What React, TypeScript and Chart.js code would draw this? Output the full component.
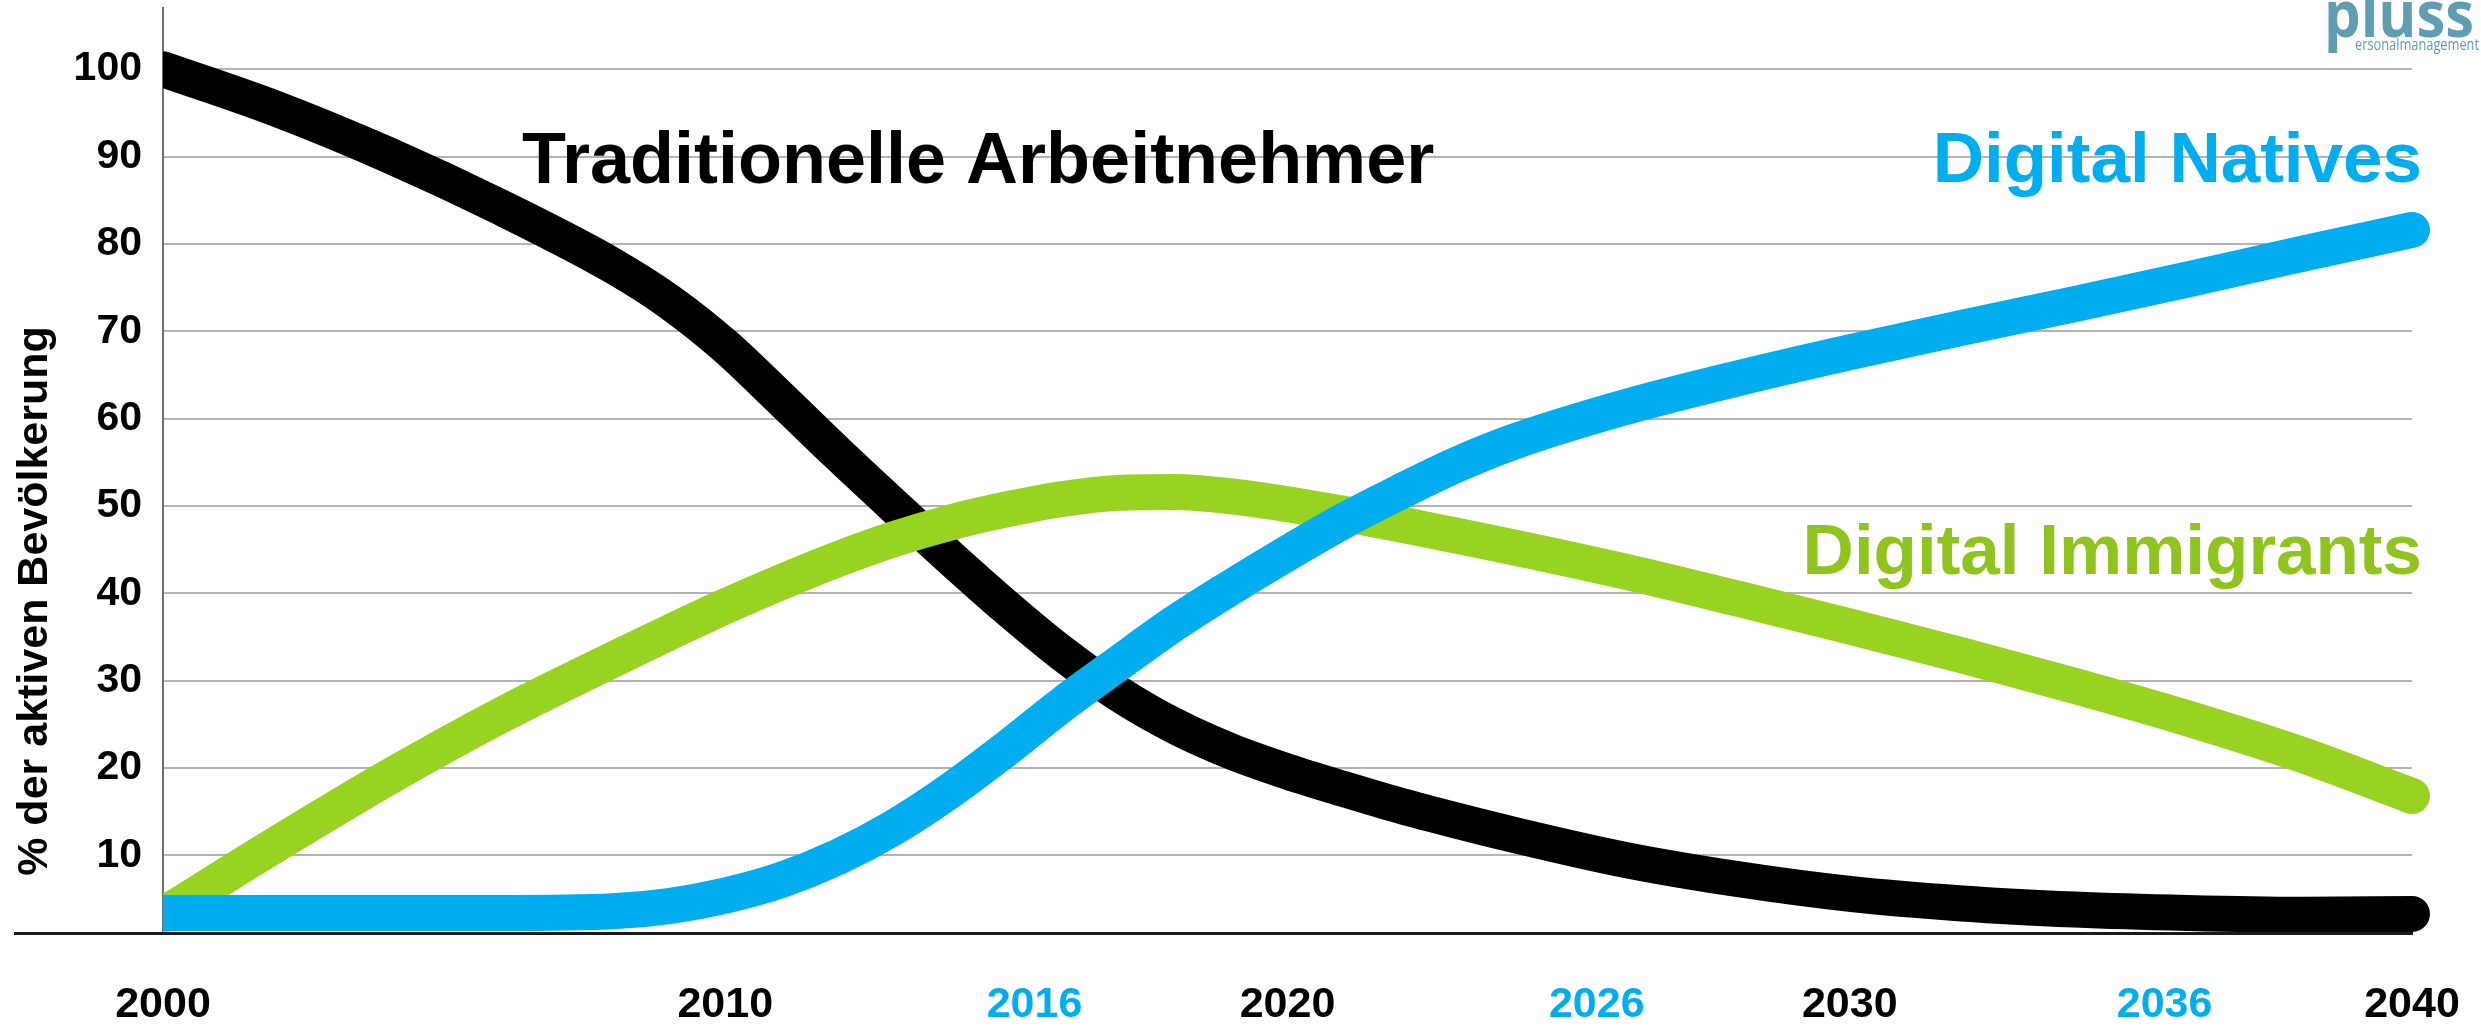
import React, { useEffect, useRef } from "react";
import { Chart, registerables } from "chart.js";

Chart.register(...registerables);

// ---------- data ----------
const years = [
  2000, 2002, 2004, 2006, 2008, 2009, 2010, 2011, 2012, 2013, 2014, 2015,
  2016, 2017, 2018, 2019, 2020, 2021, 2022, 2023, 2024, 2026, 2028, 2030,
  2032, 2034, 2036, 2038, 2040,
];

const traditionelleArbeitnehmer = [
  100, 95.5, 90.2, 84.2, 77.5, 73.4, 68.3, 62.2, 56, 50, 44.1, 38.4,
  33.1, 28.5, 24.8, 21.9, 19.6, 17.6, 15.7, 14, 12.4, 9.5, 7.3, 5.6,
  4.5, 3.8, 3.4, 3.2, 3.3,
];

const digitalImmigrants = [
  3.2, 11.2, 18.9, 26, 32.4, 35.5, 38.5, 41.3, 43.9, 46.2, 48.1, 49.6,
  50.8, 51.5, 51.6, 51.1, 50.2, 49.1, 47.9, 46.6, 45.3, 42.5, 39.4, 36.2,
  32.9, 29.4, 25.7, 21.6, 16.8,
];

const digitalNatives = [
  3.4, 3.4, 3.4, 3.4, 3.6, 4.2, 5.4, 7.2, 9.8, 13.2, 17.4, 22.2,
  27.3, 32, 36.6, 40.7, 44.6, 48.3, 51.6, 54.7, 57.3, 61.3, 64.6, 67.6,
  70.4, 73.1, 75.9, 78.8, 81.6,
];

const xTickValues = [2000, 2010, 2015.5, 2020, 2025.5, 2030, 2035.6, 2040];
const xTickLabels = ["2000", "2010", "2016", "2020", "2026", "2030", "2036", "2040"];
const xTickHighlighted = [false, false, true, false, true, false, true, false];

const yTickValues = [10, 20, 30, 40, 50, 60, 70, 80, 90, 100];

const yAxisTitle = "% der aktiven Bevölkerung";
const labelTraditionelle = "Traditionelle Arbeitnehmer";
const labelNatives = "Digital Natives";
const labelImmigrants = "Digital Immigrants";
const logoMain = "pluss";
const logoSub = "ersonalmanagement";

// ---------- styles ----------
const BLUE = "#00aeef";
const GREEN = "#97d320";
const GREEN_TEXT = "#8fc41f";
const BLACK = "#000000";
const TEAL = "#5f9db0";
const FONT = "'Liberation Sans', Arial, Helvetica, sans-serif";
const LOGO_FONT = "'Open Sans', 'DejaVu Sans', sans-serif";

const W = 2481;
const H = 1027;

function fitText(ctx: CanvasRenderingContext2D, text: string, x: number, y: number, width: number) {
  const m = ctx.measureText(text).width || 1;
  ctx.save();
  ctx.translate(x, y);
  ctx.scale(width / m, 1);
  ctx.fillText(text, 0, 0);
  ctx.restore();
}

const overlayPlugin = {
  id: "overlay",
  afterDraw(chart: any) {
    const ctx = chart.ctx as CanvasRenderingContext2D;
    const area = chart.chartArea;
    ctx.save();

    // x baseline (extends left past the y axis)
    ctx.strokeStyle = "#1a1a1a";
    ctx.lineWidth = 3;
    ctx.beginPath();
    ctx.moveTo(14, area.bottom + 0.5);
    ctx.lineTo(area.right + 1, area.bottom + 0.5);
    ctx.stroke();

    // series labels
    ctx.textBaseline = "alphabetic";
    ctx.fillStyle = BLACK;
    ctx.textAlign = "left";
    ctx.font = `bold 72px ${FONT}`;
    ctx.fillText(labelTraditionelle, 522, 183);
    ctx.font = `bold 71px ${FONT}`;
    ctx.fillStyle = BLUE;
    ctx.textAlign = "right";
    ctx.fillText(labelNatives, 2422, 182);
    ctx.fillStyle = GREEN_TEXT;
    ctx.fillText(labelImmigrants, 2422, 574);

    // y axis title
    ctx.save();
    ctx.translate(47, 601);
    ctx.rotate(-Math.PI / 2);
    ctx.font = `bold 43px ${FONT}`;
    ctx.fillStyle = BLACK;
    ctx.textAlign = "center";
    ctx.textBaseline = "alphabetic";
    ctx.fillText(yAxisTitle, 0, 0);
    ctx.restore();

    // logo
    ctx.fillStyle = TEAL;
    ctx.textAlign = "left";
    ctx.textBaseline = "alphabetic";
    ctx.font = `bold 64px ${LOGO_FONT}`;
    fitText(ctx, logoMain, 2324, 37, 150);
    ctx.font = `16px ${LOGO_FONT}`;
    fitText(ctx, logoSub, 2355, 50, 124);

    ctx.restore();
  },
};

function makeDataset(label: string, values: number[], color: string) {
  return {
    label,
    data: years.map((x, i) => ({ x, y: values[i] })),
    borderColor: color,
    backgroundColor: color,
    borderWidth: 36,
    pointRadius: 0,
    pointHoverRadius: 0,
    fill: false,
    cubicInterpolationMode: "monotone" as const,
    borderCapStyle: "round" as const,
    borderJoinStyle: "round" as const,
    clip: { left: 0, top: false, right: false, bottom: 0 } as any,
  };
}

export default function App() {
  const canvasRef = useRef<HTMLCanvasElement | null>(null);

  useEffect(() => {
    const canvas = canvasRef.current;
    if (!canvas) return;
    const chart = new Chart(canvas, {
      type: "line",
      data: {
        datasets: [
          // first dataset is drawn on top
          makeDataset(labelNatives, digitalNatives, BLUE),
          makeDataset(labelImmigrants, digitalImmigrants, GREEN),
          makeDataset(labelTraditionelle, traditionelleArbeitnehmer, BLACK),
        ],
      },
      options: {
        responsive: false,
        maintainAspectRatio: false,
        animation: false,
        devicePixelRatio: 1,
        events: [],
        layout: { padding: { left: 0, right: 69, top: 8, bottom: 0 } },
        plugins: {
          legend: { display: false },
          tooltip: { enabled: false },
          title: { display: false },
        },
        scales: {
          x: {
            type: "linear",
            min: 2000,
            max: 2040,
            afterBuildTicks: (s: any) => {
              s.ticks = xTickValues.map((v) => ({ value: v }));
            },
            afterFit: (s: any) => {
              s.height = 94;
              s.paddingLeft = 0;
              s.paddingRight = 0;
            },
            grid: { display: false, drawTicks: false },
            border: { display: false },
            ticks: {
              autoSkip: false,
              maxRotation: 0,
              minRotation: 0,
              padding: 46,
              font: { family: FONT, size: 43, weight: "bold" },
              color: (c: any) => (xTickHighlighted[c.index] ? BLUE : BLACK),
              callback: (_v: any, i: number) => xTickLabels[i],
            },
          },
          y: {
            type: "linear",
            min: 1.12,
            max: 107,
            afterBuildTicks: (s: any) => {
              s.ticks = yTickValues.map((v) => ({ value: v }));
            },
            afterFit: (s: any) => {
              s.width = 163;
              s.paddingTop = 0;
              s.paddingBottom = 0;
            },
            grid: { color: "#b3b3b3", lineWidth: 2, drawTicks: false },
            border: { display: true, color: "#6e6e6e", width: 2 },
            ticks: {
              padding: 21,
              font: { family: FONT, size: 41, weight: "bold" },
              color: BLACK,
            },
          },
        },
      },
      plugins: [overlayPlugin],
    });
    return () => chart.destroy();
  }, []);

  return (
    <div style={{ position: "absolute", left: 0, top: 0, width: W, height: H, background: "#fff" }}>
      <canvas ref={canvasRef} width={W} height={H} style={{ display: "block", width: W, height: H }} />
    </div>
  );
}
